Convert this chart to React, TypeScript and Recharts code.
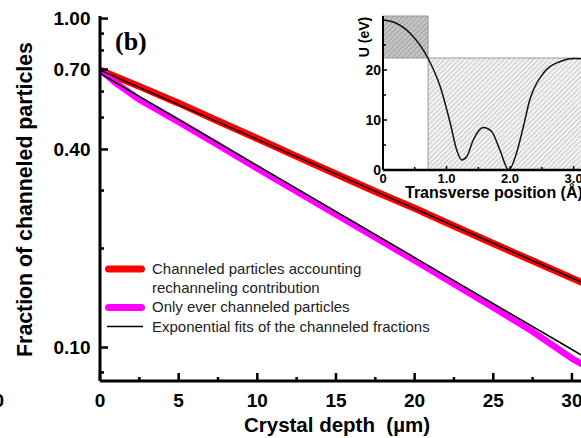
import React from "react";
import { LineChart, Line, XAxis, YAxis, ReferenceArea } from "recharts";

const FONT = "'Liberation Sans', Arial, Helvetica, sans-serif";

// main panel: fraction of channeled particles vs crystal depth (um)
const simDepth = [0, 2.5, 5, 7.5, 10, 12.5, 15, 17.5, 20, 22.5, 25, 27.5, 30, 31];
const withRechanneling = [0.697, 0.622, 0.553, 0.488, 0.432, 0.381, 0.337, 0.298, 0.265, 0.234, 0.207, 0.1835, 0.1625, 0.155];
const onlyDepth = [0, 1, 2.5, 5, 7.5, 10, 12.5, 15, 17.5, 20, 22.5, 25, 27.5, 30, 31];
const onlyChanneled = [0.7, 0.637, 0.567, 0.485, 0.4125, 0.35, 0.298, 0.2537, 0.216, 0.1838, 0.156, 0.1323, 0.1118, 0.0926, 0.0872];
const fitDepth = [0, 10, 20, 30, 32];
const fitRechanneling = [0.697, 0.4294, 0.2644, 0.1627, 0.1477];
const fitOnly = [0.681, 0.3574, 0.1877, 0.0986, 0.0867];

const depthTicks = [0, 2.5, 5, 7.5, 10, 12.5, 15, 17.5, 20, 22.5, 25, 27.5, 30];
const fractionMajor = [1.0, 0.7, 0.4, 0.1];
const fractionMinor = [0.9, 0.8, 0.6, 0.5, 0.3, 0.2, 0.084];

const legendLabels = [
  ["Channeled particles accounting", "rechanneling contribution"],
  ["Only ever channeled particles"],
  ["Exponential fits of the channeled fractions"],
];
const legendColors = ["#ff0000", "#ff00ff", "#000000"];

// inset: planar potential U (eV) vs transverse position (A)
const transPos = [0, 0.2, 0.43, 0.71, 0.9, 1.06, 1.16, 1.24, 1.32, 1.42, 1.58, 1.71, 1.84, 1.98, 2.1, 2.21, 2.31, 2.52, 2.79, 3.0, 3.15, 3.3];
const potential = [30, 29.4, 27.3, 22.3, 16.7, 9.3, 4, 2, 2.7, 6, 8.5, 7.7, 4, 0, 3.3, 8.7, 14, 19.3, 21.7, 22.3, 22.2, 21.8];
const posTicks = [0, 0.5, 1, 1.5, 2, 2.5, 3];
const energyTicks = [0, 5, 10, 15, 20, 25];
const barrierLevel = 22.4;
const barrierEdge = 0.71;

const rows = (xs: number[], ys: number[]) => xs.map((x, i) => ({ x, y: ys[i] }));

const DepthTick = (props: any) => {
  const { x, y, payload } = props;
  const major = payload.value % 5 === 0;
  return (
    <g>
      <line x1={x} x2={x} y1={y} y2={y - (major ? 8 : 4)} stroke="#000" strokeWidth={2.5} />
      {major && (
        <text x={x} y={y + 26} textAnchor="middle" fontSize={19} fontWeight="bold" fontFamily={FONT} fill="#000">
          {payload.value}
        </text>
      )}
    </g>
  );
};

const FractionTick = (props: any) => {
  const { x, y, payload } = props;
  const major = fractionMajor.includes(payload.value);
  return (
    <g>
      <line x1={x} x2={x + (major ? 8 : 4)} y1={y} y2={y} stroke="#000" strokeWidth={2.5} />
      {major && (
        <text x={x - 9.5} y={y + 6.8} textAnchor="end" fontSize={19} fontWeight="bold" fontFamily={FONT} fill="#000">
          {payload.value.toFixed(2)}
        </text>
      )}
    </g>
  );
};

const PosTick = (props: any) => {
  const { x, y, payload } = props;
  const v = payload.value;
  const major = Number.isInteger(v);
  return (
    <g>
      <line x1={x} x2={x} y1={y} y2={y - (major ? 4 : 3)} stroke="#000" strokeWidth={1.5} />
      {major && (
        <text x={x} y={y + 12.5} textAnchor="middle" fontSize={13} fontWeight="bold" fontFamily={FONT} fill="#000">
          {v === 0 ? "0" : v.toFixed(1)}
        </text>
      )}
    </g>
  );
};

const EnergyTick = (props: any) => {
  const { x, y, payload } = props;
  const major = payload.value % 10 === 0;
  return (
    <g>
      <line x1={x} x2={x + (major ? 4 : 3)} y1={y} y2={y} stroke="#000" strokeWidth={1.5} />
      {major && (
        <text x={x - 2} y={y + 5} textAnchor="end" fontSize={14} fontWeight="bold" fontFamily={FONT} fill="#000">
          {payload.value}
        </text>
      )}
    </g>
  );
};

// legend drawn in svg, inside the plot, rows 19px apart
const MainLegend = () => {
  let row = 0;
  return (
    <g fontFamily={FONT} fontSize={15} fill="#222">
      {legendLabels.map((lines, i) => {
        const cy = 269 + row * 19.2;
        row += lines.length;
        return (
          <g key={i}>
            {i < 2 ? (
              <line x1={108.5} x2={141.5} y1={cy} y2={cy} stroke={legendColors[i]} strokeWidth={7} strokeLinecap="round" />
            ) : (
              <line x1={107} x2={143} y1={cy} y2={cy} stroke={legendColors[i]} strokeWidth={1.5} />
            )}
            {lines.map((t, j) => (
              <text key={j} x={152} y={cy + 5 + j * 19.2}>
                {t}
              </text>
            ))}
          </g>
        );
      })}
    </g>
  );
};

export default function App() {
  return (
    <div style={{ position: "absolute", left: 0, top: 0, width: 581, height: 438, overflow: "hidden", background: "#fff", fontFamily: FONT }}>
      <svg width={0} height={0} style={{ position: "absolute" }}>
        <defs>
          <pattern id="hatchLight" width={3.5} height={3.5} patternUnits="userSpaceOnUse" patternTransform="rotate(45)">
            <rect width={3.5} height={3.5} fill="#f2f2f2" />
            <line x1={0} y1={0} x2={0} y2={3.5} stroke="#999" strokeWidth={0.9} />
          </pattern>
          <pattern id="hatchDark" width={3.5} height={3.5} patternUnits="userSpaceOnUse" patternTransform="rotate(45)">
            <rect width={3.5} height={3.5} fill="#c4c4c4" />
            <line x1={0} y1={0} x2={0} y2={3.5} stroke="#808080" strokeWidth={1} />
          </pattern>
        </defs>
      </svg>

      <div style={{ position: "absolute", left: 0, top: 0 }}>
        <LineChart width={620} height={438} margin={{ top: 16, right: 16.6, left: 0, bottom: 0 }}>
          <Line data={rows(simDepth, withRechanneling)} dataKey="y" type="linear" stroke="#ff0000" strokeWidth={7} dot={false} isAnimationActive={false} />
          <Line data={rows(onlyDepth, onlyChanneled)} dataKey="y" type="linear" stroke="#ff00ff" strokeWidth={6.5} dot={false} isAnimationActive={false} />
          <Line data={rows(fitDepth, fitRechanneling)} dataKey="y" type="linear" stroke="#000" strokeWidth={1.5} dot={false} isAnimationActive={false} />
          <Line data={rows(fitDepth, fitOnly)} dataKey="y" type="linear" stroke="#000" strokeWidth={1.5} dot={false} isAnimationActive={false} />
          <XAxis
            type="number"
            dataKey="x"
            domain={[0, 32]}
            allowDataOverflow
            ticks={depthTicks}
            interval={0}
            height={57}
            tickSize={0}
            tickMargin={0}
            tickLine={false}
            tick={DepthTick}
            axisLine={{ stroke: "#000", strokeWidth: 3 }}
            label={() => (
              <g fontFamily={FONT} fontWeight="bold" fill="#000">
                <text x={337} y={432} textAnchor="middle" fontSize={20.5} style={{ whiteSpace: "pre" }}>
                  Crystal depth  (µm)
                </text>
                <text x={4} y={407} textAnchor="end" fontSize={19}>0</text>
              </g>
            )}
          />
          <XAxis
            xAxisId="top"
            orientation="top"
            type="number"
            domain={[0, 32]}
            height={0}
            tick={false}
            tickLine={false}
            axisLine={{ stroke: "#000", strokeWidth: 3 }}
          />
          <YAxis
            type="number"
            scale="log"
            domain={[0.0791, 1.018]}
            allowDataOverflow
            ticks={[...fractionMajor, ...fractionMinor]}
            interval={0}
            width={100}
            tickSize={0}
            tickMargin={0}
            tickLine={false}
            tick={FractionTick}
            axisLine={{ stroke: "#000", strokeWidth: 3 }}
            label={() => (
              <g>
                <g fill="#000" fontWeight="bold">
                  <text
                    x={25}
                    y={199.5}
                    transform="rotate(-90 25 199.5)"
                    textAnchor="middle"
                    dominantBaseline="central"
                    fontFamily={FONT}
                    fontSize={21.3}
                  >
                    Fraction of channeled particles
                  </text>
                  <text x={115} y={49.5} fontFamily="'Liberation Serif', 'Times New Roman', serif" fontSize={26}>
                    (b)
                  </text>
                </g>
                <MainLegend />
              </g>
            )}
          />
        </LineChart>
      </div>

      <div style={{ position: "absolute", left: 340, top: 0 }}>
        <LineChart width={270} height={210} margin={{ top: 16, right: 11, left: 0, bottom: 0 }}>
          <ReferenceArea x1={0} x2={3.4} y1={0} y2={30.8} fill="#fff" fillOpacity={1} stroke="none" />
          <ReferenceArea x1={0} x2={barrierEdge} y1={barrierLevel} y2={30.8} fill="url(#hatchDark)" fillOpacity={1} stroke="#999" />
          <ReferenceArea x1={barrierEdge} x2={3.4} y1={0} y2={barrierLevel} fill="url(#hatchLight)" fillOpacity={1} stroke="#999" />
          <Line data={rows(transPos, potential)} dataKey="y" type="monotone" stroke="#111" strokeWidth={1.5} dot={false} isAnimationActive={false} />
          <XAxis
            type="number"
            dataKey="x"
            domain={[0, 3.4]}
            allowDataOverflow
            ticks={posTicks}
            interval={0}
            height={40}
            tickSize={0}
            tickMargin={0}
            tickLine={false}
            tick={PosTick}
            axisLine={{ stroke: "#000", strokeWidth: 2.5 }}
            label={() => (
              <text x={65} y={198} fontFamily={FONT} fontWeight="bold" fontSize={16} fill="#000">
                Transverse position (Å)
              </text>
            )}
          />
          <XAxis xAxisId="top" orientation="top" type="number" domain={[0, 3.4]} height={0} tick={false} tickLine={false} axisLine={{ stroke: "#000", strokeWidth: 3 }} />
          <YAxis
            type="number"
            domain={[0, 30.8]}
            allowDataOverflow
            ticks={energyTicks}
            interval={0}
            width={43}
            tickSize={0}
            tickMargin={0}
            tickLine={false}
            tick={EnergyTick}
            axisLine={{ stroke: "#000", strokeWidth: 2 }}
            label={() => (
              <text
                x={24}
                y={37}
                transform="rotate(-90 24 37)"
                textAnchor="middle"
                dominantBaseline="central"
                fontFamily={FONT}
                fontWeight="bold"
                fontSize={14}
                fill="#000"
              >
                U (eV)
              </text>
            )}
          />
        </LineChart>
      </div>
    </div>
  );
}
